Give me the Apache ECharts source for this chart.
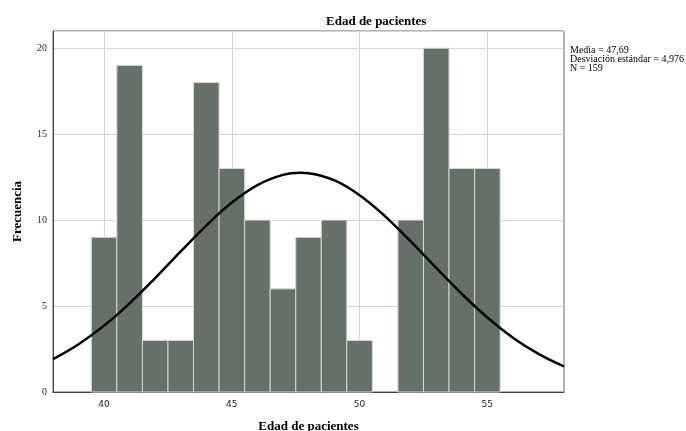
<!DOCTYPE html>
<html><head><meta charset="utf-8">
<script src="https://cdn.jsdelivr.net/npm/echarts@6/dist/echarts.min.js"></script>
<style>html,body{margin:0;padding:0;background:#fff}#c{width:686px;height:431px}</style>
</head><body><div id="c"></div>
<script>
const binCenters = [40, 41, 42, 43, 44, 45, 46, 47, 48, 49, 50, 51, 52, 53, 54, 55];
const frequencies = [9, 19, 3, 3, 18, 13, 10, 6, 9, 10, 3, 0, 10, 20, 13, 13];
const curveX = [38, 39, 40, 41, 42, 43, 44, 45, 46, 47, 47.7, 48, 49, 50, 51, 52, 53, 54, 55, 56, 57, 58];
const curveY = [1.91, 2.78, 3.86, 5.16, 6.63, 8.18, 9.68, 11.02, 12.04, 12.63, 12.75, 12.73, 12.32, 11.45, 10.22, 8.76, 7.22, 5.71, 4.33, 3.16, 2.22, 1.49];
const xTickLabels = [40, 45, 50, 55];
const yTickLabels = [0, 5, 10, 15, 20];
const statsLines = ['Media = 47,69', 'Desviación estándar = 4,976', 'N = 159'];
const titleText = 'Edad de pacientes';
const xName = 'Edad de pacientes';
const yName = 'Frecuencia';

const chart = echarts.init(document.getElementById('c'), null, {renderer: 'canvas'});
const serif = '"Liberation Serif", "DejaVu Serif", serif';
const barData = binCenters.map((c, i) => [c, frequencies[i]]);
const lineData = curveX.map((x, i) => [x, curveY[i]]);

chart.setOption({
  animation: false,
  backgroundColor: '#fff',
  title: {
    text: titleText,
    left: 321, top: 10,
    textStyle: {fontFamily: serif, fontSize: 13, fontWeight: 'bold', color: '#000'}
  },
  graphic: [{
    type: 'text', left: 570, top: 45,
    style: {text: statsLines.join('\n'), font: '10px ' + serif, fill: '#000', lineHeight: 9}
  }],
  grid: {left: 53, right: 122, top: 31, bottom: 39, show: true, borderColor: '#666', borderWidth: 1,
         backgroundColor: 'transparent', containLabel: false, outerBoundsMode: 'none'},
  xAxis: {
    type: 'value', min: 38, max: 58, interval: 1,
    name: xName, nameLocation: 'middle', nameGap: 28,
    nameTextStyle: {fontFamily: serif, fontSize: 13, fontWeight: 'bold', color: '#000'},
    axisLine: {show: true, lineStyle: {color: '#444'}},
    axisTick: {show: false},
    axisLabel: {
      fontFamily: '"DejaVu Sans", sans-serif', fontSize: 9, color: '#222', margin: 8,
      hideOverlap: false,
      formatter: v => xTickLabels.includes(v) ? String(v) : ''
    },
    splitLine: {show: false}
  },
  yAxis: {
    type: 'value', min: 0, max: 21, interval: 5,
    name: yName, nameLocation: 'middle', nameGap: 29, nameRotate: 90,
    nameTextStyle: {fontFamily: serif, fontSize: 13, fontWeight: 'bold', color: '#000'},
    axisLine: {show: true, lineStyle: {color: '#444'}},
    axisTick: {show: false},
    axisLabel: {
      fontFamily: serif, fontSize: 10, color: '#222', margin: 6,
      formatter: v => yTickLabels.includes(v) ? String(v) : ''
    },
    splitLine: {show: true, lineStyle: {color: '#d4d4d4', width: 1}}
  },
  series: [
    {
      type: 'line',
      data: [],
      z: 1,
      markLine: {
        z: 1,
        silent: true, symbol: 'none', label: {show: false},
        lineStyle: {color: '#d4d4d4', width: 1, type: 'solid'},
        data: xTickLabels.map(v => ({xAxis: v}))
      }
    },
    {
      type: 'custom',
      data: barData,
      renderItem: function (params, api) {
        const c = api.value(0), v = api.value(1);
        if (!v) return null;
        const p0 = api.coord([c - 0.5, v]);
        const p1 = api.coord([c + 0.5, 0]);
        return {
          type: 'rect',
          shape: {x: p0[0], y: p0[1], width: p1[0] - p0[0], height: p1[1] - p0[1]},
          style: {fill: '#66706a', stroke: '#d6d6d6', lineWidth: 1}
        };
      },
      encode: {x: 0, y: 1},
      z: 2
    },
    {
      type: 'line',
      data: lineData,
      smooth: 0.4,
      showSymbol: false,
      lineStyle: {color: '#000', width: 2.5},
      z: 3
    }
  ]
});
</script></body></html>
